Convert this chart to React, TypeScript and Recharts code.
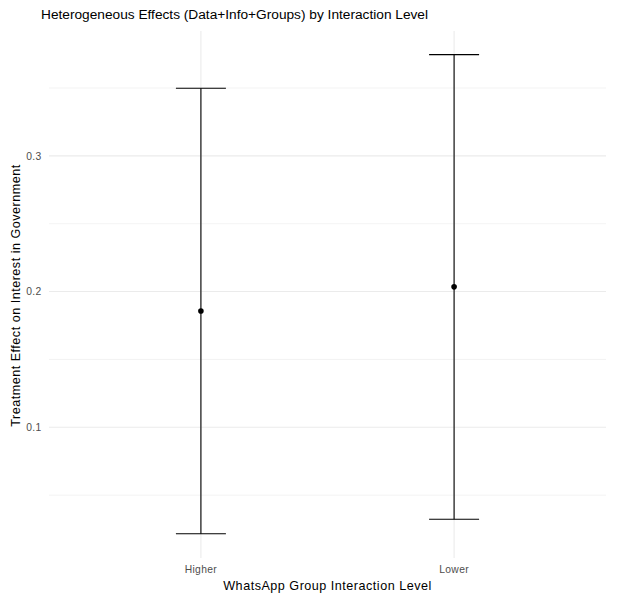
import React from 'react';
import {
  ScatterChart,
  Scatter,
  ErrorBar,
  XAxis,
  YAxis,
  ReferenceLine,
} from 'recharts';

// values
const groups = ['Higher', 'Lower'];
const estimates = [0.1857, 0.2035];
const lowerCI = [0.0216, 0.0323];
const upperCI = [0.3498, 0.3746];

const yTicks = [0.1, 0.2, 0.3];
const yMinorTicks = [0.05, 0.15, 0.25, 0.35];
const xTicks = [1, 2];

const data = groups.map((g, i) => ({
  x: i + 1,
  group: g,
  est: estimates[i],
  lo: lowerCI[i],
  hi: upperCI[i],
}));

const FONT = '"Liberation Sans", Arial, Helvetica, sans-serif';
const GRID = '#EBEBEB';
const TICK = '#4D4D4D';

const Dot = (props: any) => {
  const { cx, cy } = props;
  return <circle cx={cx} cy={cy} r={2.8} fill="#000" />;
};

export default function App() {
  return (
    <div style={{ position: 'absolute', left: 0, top: 0, width: 619, height: 594, background: '#fff', fontFamily: FONT }}>
      <div
        style={{
          position: 'absolute',
          left: 41,
          top: 7,
          fontSize: 13.7,
          lineHeight: '16px',
          color: '#000',
          whiteSpace: 'nowrap',
        }}
      >
        Heterogeneous Effects (Data+Info+Groups) by Interaction Level
      </div>
      <ScatterChart
        width={619}
        height={594}
        margin={{ top: 31, right: 13, bottom: 0, left: 0 }}
        style={{ fontFamily: FONT }}
      >
        {/* panel grid: major + minor lines like theme_minimal */}
        {yMinorTicks.map((v) => (
          <ReferenceLine key={'m' + v} y={v} stroke={GRID} strokeWidth={0.6} />
        ))}
        {yTicks.map((v) => (
          <ReferenceLine key={'y' + v} y={v} stroke={GRID} strokeWidth={1.07} />
        ))}
        {xTicks.map((v) => (
          <ReferenceLine key={'x' + v} x={v} stroke={GRID} strokeWidth={1.07} />
        ))}
        <XAxis
          type="number"
          dataKey="x"
          domain={[0.4, 2.6]}
          ticks={xTicks}
          tickFormatter={(v: number) => groups[v - 1]}
          axisLine={false}
          tickLine={false}
          tickSize={0}
          tickMargin={7.5}
          height={36}
          tick={{ fill: TICK, fontSize: 10.3, letterSpacing: 0.35 }}
          label={{
            content: (p: any) => {
              const vb = p.viewBox;
              return (
                <text
                  x={vb.x + vb.width / 2}
                  y={590}
                  textAnchor="middle"
                  fontSize={12.6}
                  letterSpacing={0.5}
                  fill="#000"
                  fontFamily={FONT}
                >
                  WhatsApp Group Interaction Level
                </text>
              );
            },
          }}
        />
        <YAxis
          type="number"
          dataKey="est"
          domain={[0.0037, 0.392]}
          ticks={yTicks}
          allowDataOverflow
          axisLine={false}
          tickLine={false}
          tickSize={0}
          tickMargin={7.5}
          width={49}
          tick={{ fill: TICK, fontSize: 10.3, letterSpacing: 0.35 }}
          label={{
            content: (p: any) => {
              const vb = p.viewBox;
              const cy = vb.y + vb.height / 2 + 1;
              return (
                <text
                  x={20}
                  y={cy}
                  transform={`rotate(-90 20 ${cy})`}
                  textAnchor="middle"
                  fontSize={12.6}
                  letterSpacing={0.5}
                  fill="#000"
                  fontFamily={FONT}
                >
                  Treatment Effect on Interest in Government
                </text>
              );
            },
          }}
        />
        <Scatter data={data} dataKey="est" shape={<Dot />} isAnimationActive={false}>
          <ErrorBar
            dataKey={(d: any) => [d.est - d.lo, d.hi - d.est]}
            direction="y"
            width={25}
            stroke="#000"
            strokeWidth={1.1}
            isAnimationActive={false}
          />
        </Scatter>
      </ScatterChart>
    </div>
  );
}
